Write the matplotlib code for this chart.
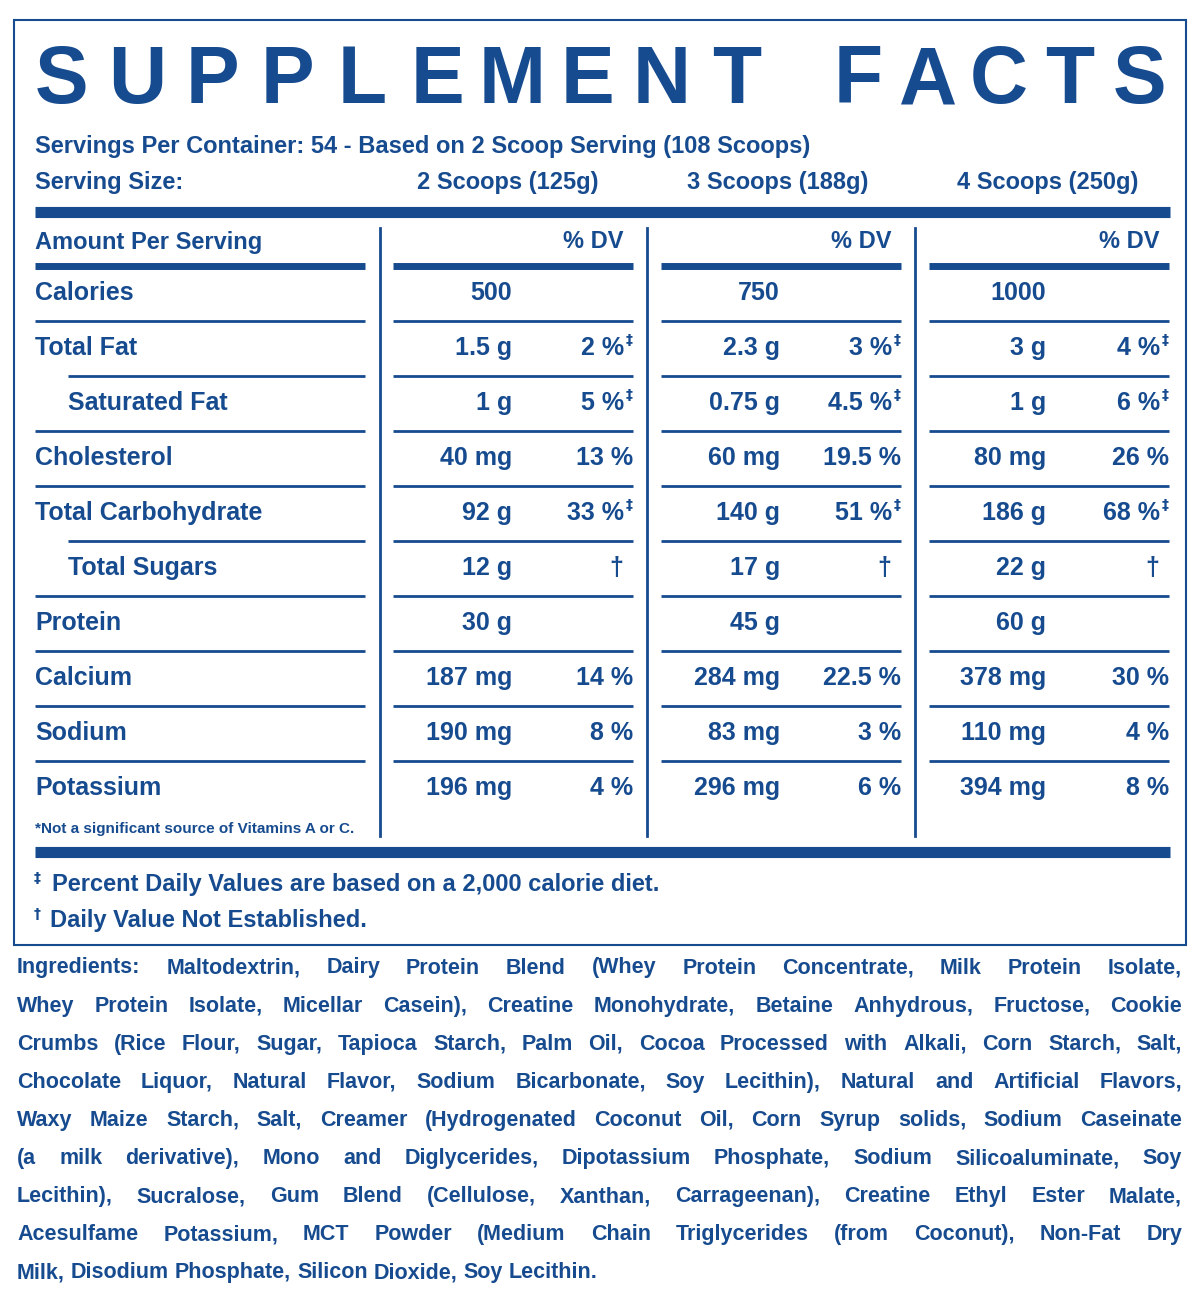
import matplotlib
matplotlib.use('Agg')
import matplotlib.pyplot as plt

BLUE = '#174b8f'
FONT = ['Liberation Sans', 'DejaVu Sans']

servings = 'Servings Per Container: 54 - Based on 2 Scoop Serving (108 Scoops)'
sizes = ['2 Scoops (125g)', '3 Scoops (188g)', '4 Scoops (250g)']
nutrients = ['Calories', 'Total Fat', 'Saturated Fat', 'Cholesterol', 'Total Carbohydrate',
             'Total Sugars', 'Protein', 'Calcium', 'Sodium', 'Potassium']
indented = [False, False, True, False, False, True, False, False, False, False]
amounts = [
    ['500', '1.5 g', '1 g', '40 mg', '92 g', '12 g', '30 g', '187 mg', '190 mg', '196 mg'],
    ['750', '2.3 g', '0.75 g', '60 mg', '140 g', '17 g', '45 g', '284 mg', '83 mg', '296 mg'],
    ['1000', '3 g', '1 g', '80 mg', '186 g', '22 g', '60 g', '378 mg', '110 mg', '394 mg'],
]
dvs = [
    ['', '2 %‡', '5 %‡', '13 %', '33 %‡', '†', '', '14 %', '8 %', '4 %'],
    ['', '3 %‡', '4.5 %‡', '19.5 %', '51 %‡', '†', '', '22.5 %', '3 %', '6 %'],
    ['', '4 %‡', '6 %‡', '26 %', '68 %‡', '†', '', '30 %', '4 %', '8 %'],
]
ing_lines = [
    "Ingredients: Maltodextrin, Dairy Protein Blend (Whey Protein Concentrate, Milk Protein Isolate,",
    "Whey Protein Isolate, Micellar Casein), Creatine Monohydrate, Betaine Anhydrous, Fructose, Cookie",
    "Crumbs (Rice Flour, Sugar, Tapioca Starch, Palm Oil, Cocoa Processed with Alkali, Corn Starch, Salt,",
    "Chocolate Liquor, Natural Flavor, Sodium Bicarbonate, Soy Lecithin), Natural and Artificial Flavors,",
    "Waxy Maize Starch, Salt, Creamer (Hydrogenated Coconut Oil, Corn Syrup solids, Sodium Caseinate",
    "(a milk derivative), Mono and Diglycerides, Dipotassium Phosphate, Sodium Silicoaluminate, Soy",
    "Lecithin), Sucralose, Gum Blend (Cellulose, Xanthan, Carrageenan), Creatine Ethyl Ester Malate,",
    "Acesulfame Potassium, MCT Powder (Medium Chain Triglycerides (from Coconut), Non-Fat Dry",
    "Milk, Disodium Phosphate, Silicon Dioxide, Soy Lecithin.",
]

fig = plt.figure(figsize=(12, 12.96), dpi=100)
ax = fig.add_axes([0, 0, 1, 1])
ax.set_xlim(0, 1200); ax.set_ylim(1296, 0); ax.axis('off')

def t(x, y, s, size=18, ha='left', **kw):
    return ax.text(x, y, s, fontsize=size, ha=ha, va='center', color=BLUE,
                   family=FONT, fontweight='bold', **kw)

def hline(y, x0, x1, lw):
    ax.plot([x0, x1], [y, y], color=BLUE, lw=lw, solid_capstyle='butt')

# outer box
ax.add_patch(plt.Rectangle((14, 20), 1172, 925, fill=False, ec=BLUE, lw=1.5))

# title, letters spread out
title_groups = [('SUPPLEMENT', 62, 737), ('FACTS', 858, 1140)]
for word, x0, x1 in title_groups:
    step = (x1 - x0) / (len(word) - 1)
    for i, ch in enumerate(word):
        ax.text(x0 + i * step, 82, ch, fontsize=58, ha='center', va='center', color=BLUE,
                family=FONT, fontweight='bold')

t(35, 147, servings, size=17)
t(35, 183, 'Serving Size:', size=17)
for s, xc in zip(sizes, [508, 778, 1048]):
    t(xc, 183, s, size=17, ha='center')
hline(212, 35, 1170, 8)

col_l = [393, 661, 929]
col_r = [633, 901, 1169]
amt_r = [512, 780, 1046]

t(35, 242, 'Amount Per Serving', size=17)
hline(266, 35, 365, 5)
for l, r in zip(col_l, col_r):
    t(r - 40, 242, '% DV', size=17, ha='center')
    hline(266, l, r, 5)
for x in [380, 647, 915]:
    ax.plot([x, x], [228, 836], color=BLUE, lw=2)

y0, dy = 293, 55
for i, name in enumerate(nutrients):
    y = y0 + i * dy
    t(68 if indented[i] else 35, y, name)
    if i > 0:
        ry = y - dy / 2
        hline(ry, 68 if indented[i] else 35, 365, 2)
        for l, r in zip(col_l, col_r):
            hline(ry, l, r, 2)
    for c in range(3):
        t(amt_r[c], y, amounts[c][i], ha='right')
        dv = dvs[c][i]
        if dv.endswith('‡'):
            t(col_r[c] - 9, y, dv[:-1], ha='right')
            ax.text(col_r[c], y - 8, '‡', fontsize=10, ha='right', va='center', color=BLUE,
                    family=['DejaVu Sans'], fontweight='bold')
        elif dv == '†':
            t(col_r[c] - 17, y, '†', ha='center')
        elif dv:
            t(col_r[c], y, dv, ha='right')

t(35, 829, '*Not a significant source of Vitamins A or C.', size=11)
hline(852, 35, 1170, 8)

ax.text(34, 878, '‡', fontsize=10, ha='left', va='center', color=BLUE, family=['DejaVu Sans'], fontweight='bold')
t(52, 884, 'Percent Daily Values are based on a 2,000 calorie diet.', size=17)
ax.text(34, 914, '†', fontsize=10, ha='left', va='center', color=BLUE, family=['DejaVu Sans'], fontweight='bold')
t(50, 920, 'Daily Value Not Established.', size=17)

# ingredients, justified
fig.canvas.draw()
r = fig.canvas.get_renderer()
inv = ax.transData.inverted()
def width(artist):
    bb = artist.get_window_extent(r)
    p0 = inv.transform((bb.x0, bb.y0)); p1 = inv.transform((bb.x1, bb.y0))
    return p1[0] - p0[0]

x_left, x_right = 17, 1182
for li, line in enumerate(ing_lines):
    y = 968 + li * 38.1
    words = line.split(' ')
    arts = [t(0, y, w, size=15.5) for w in words]
    ws = [width(a) for a in arts]
    if li < len(ing_lines) - 1:
        gap = (x_right - x_left - sum(ws)) / (len(words) - 1)
    else:
        gap = 6
    x = x_left
    for a, w in zip(arts, ws):
        a.set_x(x)
        x += w + gap

fig.savefig('out.png', dpi=100)
